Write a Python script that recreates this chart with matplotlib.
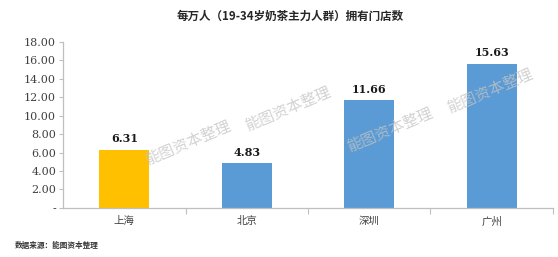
import matplotlib
matplotlib.use("Agg")
import matplotlib.pyplot as plt
from matplotlib.ticker import FixedLocator, FuncFormatter

plt.rcParams["font.family"] = ["Noto Sans CJK SC", "DejaVu Sans"]

# Data
cities = ["上海", "北京", "深圳", "广州"]
stores = [6.31, 4.83, 11.66, 15.63]
bar_colors = ["#FFC000", "#5B9BD5", "#5B9BD5", "#5B9BD5"]
yticks = [0, 2, 4, 6, 8, 10, 12, 14, 16, 18]

title = "每万人（19-34岁奶茶主力人群）拥有门店数"
source = "数据来源：能图资本整理"
watermark = "能图资本整理"
# watermark positions in figure fraction
wm_pos = [(0.337, 0.444), (0.516, 0.576), (0.699, 0.494), (0.878, 0.646)]

fig = plt.figure(figsize=(5.58, 2.57), dpi=100)
ax = fig.add_axes([0.113, 0.191, 0.878, 0.646])

x = list(range(len(cities)))
ax.bar(x, stores, width=0.41, color=bar_colors, zorder=2)

for xi, v in zip(x, stores):
    ax.annotate(f"{v:.2f}", (xi, v), xytext=(0, 4), textcoords="offset points",
                ha="center", va="bottom", fontsize=8, fontweight="bold",
                family=["DejaVu Serif"], color="#1a1a1a")

ax.set_xlim(-0.5, len(cities) - 0.5)
ax.set_ylim(0, 18)
ax.set_yticks(yticks)
ax.yaxis.set_major_formatter(FuncFormatter(lambda v, p: "-" if v == 0 else f"{v:.2f}"))
for lab in ax.get_yticklabels():
    lab.set_family(["DejaVu Serif"])
ax.tick_params(axis="y", length=3, width=0.8, color="#bfbfbf", labelsize=8,
               labelcolor="#404040", pad=2)

ax.set_xticks(x)
ax.set_xticklabels(cities)
ax.xaxis.set_minor_locator(FixedLocator([i + 0.5 for i in x]))
ax.tick_params(axis="x", which="major", length=0, labelsize=7.5,
               labelcolor="#404040", pad=6)
ax.tick_params(axis="x", which="minor", length=4, width=0.8, color="#bfbfbf")

for side in ["top", "right"]:
    ax.spines[side].set_visible(False)
for side in ["left", "bottom"]:
    ax.spines[side].set_color("#bfbfbf")
    ax.spines[side].set_linewidth(0.9)

fig.text(0.52, 0.935, title, ha="center", va="center", fontsize=8.3,
         fontweight="bold", color="#262626")
fig.text(0.027, 0.045, source, ha="left", va="center", fontsize=5.5,
         fontweight="bold", color="#333333")

for px, py in wm_pos:
    fig.text(px, py, watermark, ha="center", va="center", fontsize=11,
             rotation=23, color="#c4c4c4", alpha=0.75, zorder=5)

fig.savefig("out.png", dpi=100)
